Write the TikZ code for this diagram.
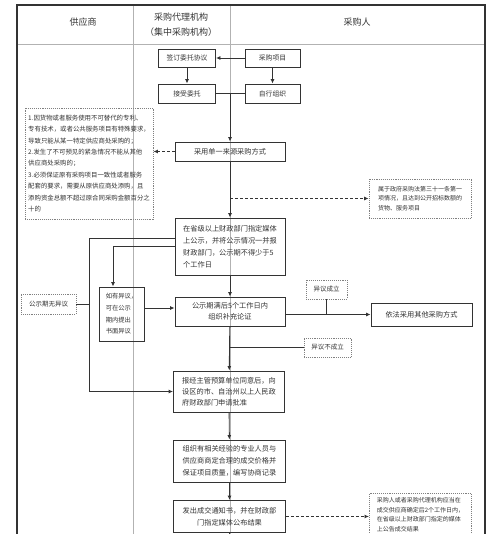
\documentclass[tikz,border=0pt]{standalone}
\usepackage{fontspec}
\setmainfont{Noto Sans CJK SC}
\usetikzlibrary{arrows.meta}
\begin{document}
\begin{tikzpicture}[x=1pt,y=-1pt,
  box/.style={draw=black!80,line width=0.9pt,text=black!80,inner sep=2pt,font=\fontsize{7.2}{12}\selectfont},
  smallbox/.style={box,font=\fontsize{6.8}{10}\selectfont},
  note/.style={draw=black!50,line width=0.9pt,densely dotted,text=black!80,inner sep=2pt,font=\fontsize{6.4}{11.4}\selectfont},
  arr/.style={-{Latex[length=4.5pt,width=4pt]},line width=0.9pt,draw=black!80},
  darr/.style={arr,dash pattern=on 3pt off 2pt},
  link/.style={line width=0.9pt,draw=black!80},
  lane/.style={draw=black!30,line width=0.6pt}]
\useasboundingbox (0,0) rectangle (500,534);
\clip (0,0) rectangle (500,534);
\fill[white] (0,0) rectangle (500,534);
\draw[lane] (133,5) -- (133,540);
\draw[lane] (230,5) -- (230,540);
\draw[lane] (17,44) -- (485,44);
\draw[line width=1.2pt,black!80] (17,540) -- (17,5) -- (485,5) -- (485,540);
\node[font=\fontsize{9}{15}\selectfont,text=black!80] (gys) at (83,22) {供应商};
\node[font=\fontsize{9}{15}\selectfont,text=black!80,align=center] (daili) at (181,24.5) {采购代理机构\\（集中采购机构）};
\node[font=\fontsize{9}{15}\selectfont,text=black!80] (cgr) at (357,22) {采购人};
\node[smallbox,minimum width=57,minimum height=18] (qianding) at (187,58) {签订委托协议};
\node[smallbox,minimum width=55,minimum height=18] (xiangmu) at (272.5,58) {采购项目};
\node[smallbox,minimum width=57,minimum height=19] (jieshou) at (187,93.5) {接受委托};
\node[smallbox,minimum width=55,minimum height=19] (zixing) at (272.5,93.5) {自行组织};
\node[box,minimum width=110,minimum height=19] (danyi) at (230,151.5) {采用单一来源采购方式};
\node[note,minimum width=128,minimum height=111,align=left] (tiaojian) at (89,163.5)
  {1.因货物或者服务使用不可替代的专利、\\专有技术，或者公共服务项目有特殊要求，\\导致只能从某一特定供应商处采购的；\\2.发生了不可预见的紧急情况不能从其他\\供应商处采购的；\\3.必须保证原有采购项目一致性或者服务\\配套的要求，需要从原供应商处添购，且\\添购资金总额不超过原合同采购金额百分之\\十的};
\node[note,minimum width=102,minimum height=39,align=left,font=\fontsize{6}{9.3}\selectfont] (shuyu) at (420,198.5)
  {属于政府采购法第三十一条第一\\项情况，且达到公开招标数额的\\货物、服务项目};
\node[box,minimum width=110,minimum height=57,align=left] (gongshi) at (230,246.5)
  {在省级以上财政部门指定媒体\\上公示，并将公示情况一并报\\财政部门，公示期不得少于5\\个工作日};
\node[note,minimum width=55,minimum height=20,font=\fontsize{6.5}{10}\selectfont] (wuyiyi) at (48.5,304) {公示期无异议};
\node[box,minimum width=45,minimum height=54,align=left,font=\fontsize{6.3}{11.7}\selectfont] (ruyou) at (121.5,314)
  {如有异议，\\可在公示\\期内提出\\书面异议};
\node[box,minimum width=110,minimum height=29,align=center,font=\fontsize{7.2}{11.5}\selectfont] (manhou) at (230,311.5)
  {公示期满后5个工作日内\\组织补充论证};
\node[note,minimum width=41,minimum height=19,font=\fontsize{6.5}{10}\selectfont] (chengli) at (326.5,289.5) {异议成立};
\node[box,minimum width=101,minimum height=23] (yifa) at (421.5,314.5) {依法采用其他采购方式};
\node[note,minimum width=47,minimum height=19,font=\fontsize{6.5}{10}\selectfont] (buchengli) at (327.5,347.5) {异议不成立};
\node[box,minimum width=111,minimum height=41,align=left,font=\fontsize{7.2}{11}\selectfont] (baojing) at (229,391.5)
  {报经主管预算单位同意后，向\\设区的市、自治州以上人民政\\府财政部门申请批准};
\node[box,minimum width=112,minimum height=42,align=center,font=\fontsize{7.2}{12}\selectfont] (zuzhi) at (229.5,461)
  {组织有相关经验的专业人员与\\供应商商定合理的成交价格并\\保证项目质量，编写协商记录};
\node[box,minimum width=112,minimum height=32,align=center,font=\fontsize{7.2}{11.5}\selectfont] (fachu) at (229.5,516.5)
  {发出成交通知书，并在财政部\\门指定媒体公布结果};
\node[note,anchor=north west,minimum width=102,inner ysep=4pt,align=left,font=\fontsize{6}{9.5}\selectfont] (gonggao) at (369,493)
  {采购人或者采购代理机构应当在\\成交供应商确定后2个工作日内，\\在省级以上财政部门指定的媒体\\上公告成交结果};
\draw[arr] (xiangmu) -- (qianding);
\draw[arr] (qianding) -- (jieshou);
\draw[arr] (xiangmu) -- (zixing);
\draw[link] (jieshou) -- (zixing);
\coordinate (hui) at (jieshou.east -| danyi.north);
\draw[arr] (hui) -- (danyi.north);
\draw[darr] (danyi.west) -- (danyi.west -| tiaojian.east);
\draw[arr] (danyi) -- (gongshi);
\draw[darr] (danyi.south |- shuyu.west) -- (shuyu.west);
\draw[arr] (gongshi) -- (manhou);
\path ([yshift=8pt]gongshi.west) ++(-85,0) coordinate (zuo);
\draw[arr] ([yshift=8pt]gongshi.west) -- (zuo) |- (baojing.west);
\draw[link] (wuyiyi.east) -- (wuyiyi.east -| zuo);
\draw[arr] (gongshi.west) -| ([xshift=-8.5pt]ruyou.north);
\coordinate (yiru) at ([yshift=3.5pt]manhou.west);
\draw[arr] (yiru -| ruyou.east) -- (yiru);
\draw[arr] (manhou.east |- yifa.west) -- (yifa.west);
\draw[link] (chengli.south) -- (chengli.south |- yifa.west);
\draw[arr] (manhou) -- (baojing);
\draw[link] (buchengli.west) -- (buchengli.west -| manhou.south);
\draw[arr] (baojing) -- (zuzhi);
\draw[arr] (zuzhi) -- (fachu);
\draw[link] (fachu.south) -- ++(0,10);
\draw[darr] (fachu.east) -- (fachu.east -| gonggao.west);
\end{tikzpicture}
\end{document}
